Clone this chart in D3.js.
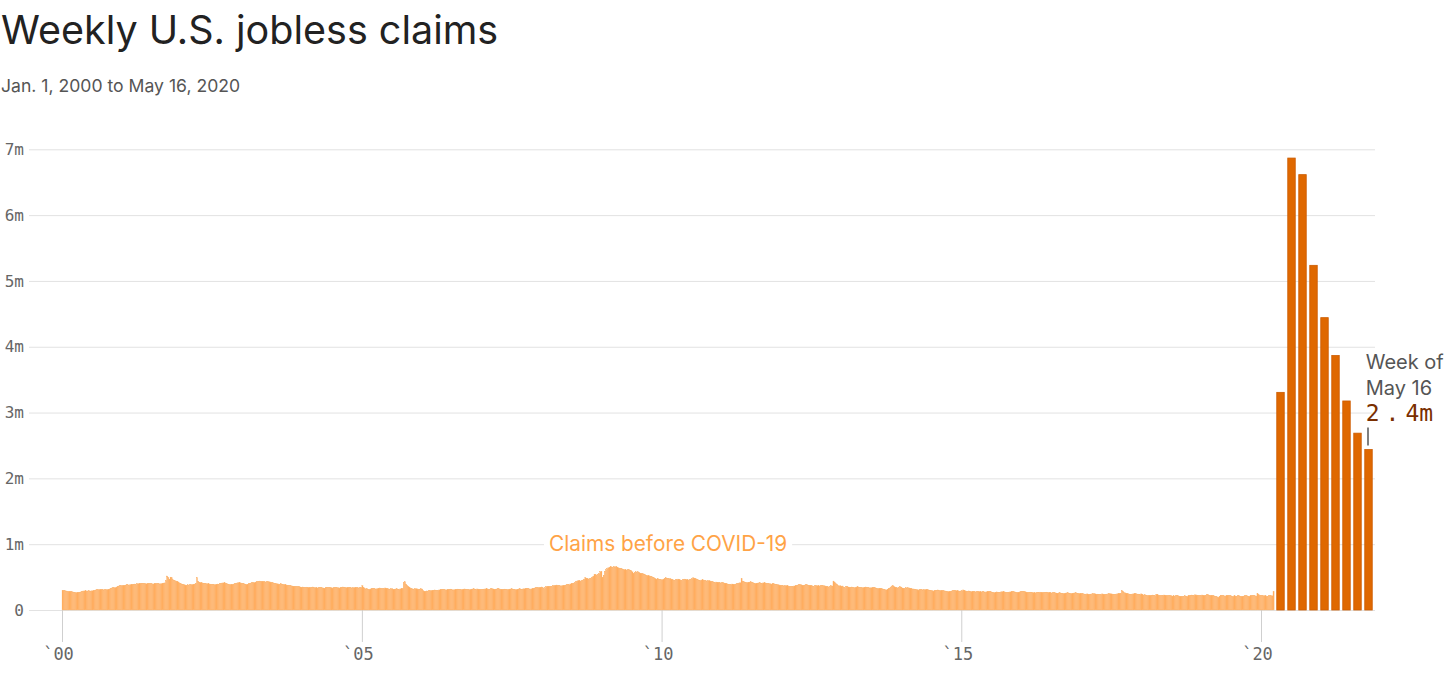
<!DOCTYPE html>
<html>
<head>
<meta charset="utf-8">
<script src="https://cdn.jsdelivr.net/npm/d3@7"></script>
<style>
  html, body { margin: 0; padding: 0; background: #fff; }
  svg { display: block; }
</style>
</head>
<body>
<svg id="chart" width="1456" height="673"></svg>
<script>
// ---- Data (weekly initial jobless claims, thousands; weeks ending Saturday) ----
const claims2000 = [300,298,295,290,288,285,282,280,278,275,270,268,265,268,270,272,275,285,288,290,292,288,290,292,290,288,292,295,298,305,308,310,312,308,310,312,305,308,310,312,315,320,330,335,340,338,342,350,360,365,370,372,375];
const claims2001 = [370,375,380,385,382,378,385,390,388,392,395,390,398,400,405,402,408,405,400,402,398,400,405,402,400,398,395,400,402,398,405,400,396,400,405,410,412,450,517,498,470,500,490,460,450,445,440,430,425,410,400,395];
const claims2002 = [392,385,380,375,382,378,382,385,388,390,395,405,495,440,425,420,415,410,408,405,400,398,402,395,390,388,392,385,388,390,395,392,400,405,410,412,415,405,400,395,390,388,392,385,395,400,405,410,415,420,412,405];
const claims2003 = [405,398,395,390,392,400,405,410,415,420,418,425,430,428,435,440,438,432,430,428,425,430,432,428,425,420,415,410,405,400,398,395,392,400,395,390,388,385,380,378,375,370,368,365,362,360,358,355,352,360,350,345];
const claims2004 = [350,345,340,342,348,345,340,338,345,350,342,340,338,335,340,345,342,338,335,330,340,345,338,342,345,340,335,338,342,345,340,338,335,342,345,350,348,345,340,338,342,345,340,335,338,342,345,340,338,335,340,345];
const claims2005 = [372,345,330,320,325,318,315,320,325,330,328,322,318,325,330,335,328,322,325,330,335,328,325,320,318,322,325,315,318,320,322,318,315,320,325,322,420,430,395,375,360,345,330,325,320,318,322,325,320,315,318,322,320];
const claims2006 = [295,285,280,290,288,292,295,298,300,302,305,300,298,302,305,310,312,315,310,308,305,310,312,315,318,310,305,308,312,315,318,315,312,310,315,318,320,315,312,310,308,315,318,320,322,318,315,320,318,315,312,310];
const claims2007 = [315,318,320,325,320,315,318,322,325,320,315,318,320,325,322,318,315,312,315,318,310,312,315,318,320,322,318,315,310,312,315,320,325,318,315,320,322,325,330,328,322,318,320,325,330,335,340,338,342,345,340,350];
const claims2008 = [338,325,340,355,362,360,358,355,362,370,375,368,380,372,375,370,365,372,370,375,380,385,390,385,395,400,405,410,420,430,440,450,445,438,445,455,470,495,485,478,470,475,485,500,515,535,540,525,545,555,580,590];
const claims2009 = [500,530,590,610,630,640,650,660,655,650,660,655,665,650,640,635,630,625,620,615,612,605,610,615,608,600,580,560,570,580,575,580,570,560,555,550,548,540,530,525,520,518,510,505,495,490,480,470,480,470,465,460];
const claims2010 = [460,470,480,490,485,480,475,480,470,465,450,455,460,465,470,460,455,450,460,465,470,465,460,455,460,470,480,490,485,475,470,460,455,450,455,460,455,450,445,440,445,450,440,435,430,425,420,425,420,415,420,410];
const claims2011 = [415,420,410,405,400,395,390,385,390,395,392,388,395,400,405,410,415,478,440,430,425,420,418,422,425,428,420,415,410,405,408,410,412,415,410,408,412,415,410,405,402,400,398,395,400,398,395,392,388,385,380,375,372];
const claims2012 = [375,365,370,372,368,362,358,355,360,362,365,370,375,380,385,388,382,378,375,380,382,385,380,378,376,370,365,360,368,372,370,368,365,372,375,370,368,365,362,360,345,362,370,365,440,425,400,395,375,365,370,360];
const claims2013 = [365,345,340,355,362,350,348,345,350,340,338,345,350,352,348,345,340,338,342,346,350,345,342,338,335,338,340,345,342,335,330,328,332,330,325,320,315,310,305,315,325,335,350,365,370,355,345,340,335,345,355,350];
const claims2014 = [335,330,325,340,335,338,335,330,325,318,320,315,312,310,305,308,312,310,305,308,312,310,308,305,302,300,295,290,295,300,302,305,300,298,295,295,292,290,288,285,282,280,285,290,295,298,300,295,292,290,285,290];
const claims2015 = [295,305,300,290,285,280,290,285,280,282,285,278,275,280,285,282,278,275,280,276,272,275,278,280,282,278,272,270,265,270,275,272,270,268,275,278,280,275,270,265,268,272,275,280,282,278,275,272,270,268,275,278];
const claims2016 = [285,282,285,278,272,268,265,270,272,268,265,262,260,265,268,270,272,268,262,265,268,270,272,268,265,262,258,262,265,262,258,255,260,262,258,255,252,255,258,260,262,258,255,252,255,258,260,262,258,255,252,250,248];
const claims2017 = [250,245,240,242,245,240,238,242,245,248,250,245,240,242,238,235,240,245,242,238,240,242,245,250,248,245,242,240,238,242,245,248,250,255,298,285,265,260,255,250,245,240,238,242,245,248,250,245,240,242,238,245];
const claims2018 = [235,225,230,228,222,225,220,218,225,228,222,220,240,235,225,220,215,222,225,228,222,218,215,220,225,218,212,215,210,215,220,218,212,210,208,205,210,215,212,208,215,220,225,228,222,225,230,228,225,220,218,225];
const claims2019 = [228,220,215,225,230,235,228,225,222,220,215,210,205,200,195,210,225,220,218,215,212,218,220,222,218,215,210,208,215,212,210,215,218,212,210,208,212,215,218,215,212,210,215,218,222,220,215,212,252,235,222,220];
const claims2020 = [220,215,218,215,205,210,215,220,215,215,282];

const covidWeeks  = ["Mar 21","Mar 28","Apr 4","Apr 11","Apr 18","Apr 25","May 2","May 9","May 16"];
const covidClaims = [3307, 6867, 6615, 5237, 4442, 3867, 3176, 2687, 2438]; // thousands

const yTickValues = [0, 1, 2, 3, 4, 5, 6, 7]; // millions
const xTickYears  = [2000, 2005, 2010, 2015, 2020];

const titleText    = "Weekly U.S. jobless claims";
const subtitleText = "Jan. 1, 2000 to May 16, 2020";
const preLabelText = "Claims before COVID-19";
const annoLine1 = "Week of";
const annoLine2 = "May 16";
const annoValueParts = ["2.", "4m"];

// ---- Build series ----
const firstWeek = new Date(Date.UTC(2000, 0, 1));
const preValues = [].concat(claims2000, claims2001, claims2002, claims2003, claims2004,
  claims2005, claims2006, claims2007, claims2008, claims2009, claims2010, claims2011,
  claims2012, claims2013, claims2014, claims2015, claims2016, claims2017, claims2018,
  claims2019, claims2020);
const preData = preValues.map((v, i) => ({ date: d3.utcDay.offset(firstWeek, 7 * i), value: v * 1000 }));
const covidData = covidWeeks.map((w, i) => ({ week: w, value: covidClaims[i] * 1000 }));

// ---- Layout ----
const svg = d3.select("#chart");
const gridLeft = 29, gridRight = 1375;
const yTop = 149.3, yBase = 610;

const y = d3.scaleLinear().domain([0, 7e6]).range([yBase, yTop]);
const x = d3.scaleUtc()
  .domain([new Date(Date.UTC(2000, 0, 1)), new Date(Date.UTC(2020, 0, 1))])
  .range([62, 1261]);
const xc = d3.scaleBand().domain(covidWeeks).range([1275, 1374]).paddingInner(0.32).paddingOuter(0.16);

// Title & subtitle
svg.append("text").attr("x", 1).attr("y", 43.5)
  .attr("font-family", "Inter, 'Liberation Sans', sans-serif").attr("font-size", 39.5)
  .attr("fill", "#222").text(titleText);
svg.append("text").attr("x", 1).attr("y", 91.5)
  .attr("font-family", "Inter, 'Liberation Sans', sans-serif").attr("font-size", 17.6)
  .attr("fill", "#555").text(subtitleText);

// Y axis with gridlines
const yAxis = d3.axisLeft(y)
  .tickValues(yTickValues.map(d => d * 1e6))
  .tickFormat(d => d === 0 ? "0" : (d / 1e6) + "m")
  .tickSize(-(gridRight - gridLeft))
  .tickPadding(5);
const gy = svg.append("g").attr("transform", `translate(${gridLeft},0)`).call(yAxis);
gy.select(".domain").remove();
gy.selectAll(".tick line").attr("stroke", "#e2e2e2").attr("stroke-width", 1);
gy.selectAll(".tick text")
  .attr("font-family", "'DejaVu Sans Mono', monospace").attr("font-size", 16)
  .attr("fill", "#666");

// X axis
const xAxis = d3.axisBottom(x)
  .tickValues(xTickYears.map(yr => new Date(Date.UTC(yr, 0, 1))))
  .tickFormat(d => "`" + d3.utcFormat("%y")(d))
  .tickSize(32).tickPadding(6);
const gx = svg.append("g").attr("transform", `translate(0,${yBase})`).call(xAxis);
gx.select(".domain").remove();
gx.selectAll(".tick line").attr("stroke", "#cfcfcf").attr("stroke-width", 1);
gx.selectAll(".tick text")
  .attr("font-family", "'DejaVu Sans Mono', monospace").attr("font-size", 17)
  .attr("fill", "#666").attr("dx", -4);

// Pre-COVID bars
const wk = x(d3.utcDay.offset(firstWeek, 7)) - x(firstWeek);
svg.append("g").selectAll("rect").data(preData).join("rect")
  .attr("x", d => x(d.date))
  .attr("y", d => y(d.value))
  .attr("width", wk)
  .attr("height", d => y(0) - y(d.value))
  .attr("fill", "#ffad5e")
  .attr("stroke", "#fbb46f").attr("stroke-width", 0.25);

// COVID bars
svg.append("g").selectAll("rect").data(covidData).join("rect")
  .attr("x", d => xc(d.week))
  .attr("y", d => y(d.value))
  .attr("width", xc.bandwidth())
  .attr("height", d => y(0) - y(d.value))
  .attr("fill", "#df6800")
  .attr("stroke", "#cc5c00").attr("stroke-width", 0.8);

// "Claims before COVID-19" label
const preMid = (x(preData[0].date) + x(preData[preData.length - 1].date) + wk) / 2;
const lbl = svg.append("g");
const lt = lbl.append("text").attr("x", preMid).attr("y", y(1e6)).attr("dy", "0.35em")
  .attr("text-anchor", "middle")
  .attr("font-family", "Inter, 'Liberation Sans', sans-serif").attr("font-size", 20.8)
  .attr("fill", "#ffa346").text(preLabelText);
const bb = lt.node().getBBox();
lbl.insert("rect", "text").attr("x", bb.x - 5).attr("y", bb.y).attr("width", bb.width + 10)
  .attr("height", bb.height).attr("fill", "#fff");

// Annotation for last week
const last = covidData[covidData.length - 1];
const ax = xc(last.week);
const ay = y(last.value);
svg.append("text").attr("x", ax + 1).attr("y", ay - 80.5)
  .attr("font-family", "Inter, 'Liberation Sans', sans-serif").attr("font-size", 20)
  .attr("fill", "#555").text(annoLine1);
svg.append("text").attr("x", ax + 1).attr("y", ay - 54.5)
  .attr("font-family", "Inter, 'Liberation Sans', sans-serif").attr("font-size", 20)
  .attr("fill", "#555").text(annoLine2);
const av = svg.append("text").attr("x", ax + 1).attr("y", ay - 28.5)
  .attr("font-family", "'DejaVu Sans Mono', monospace").attr("font-size", 23)
  .attr("fill", "#7a2f00");
av.append("tspan").attr("letter-spacing", 6).text(annoValueParts[0]);
av.append("tspan").text(annoValueParts[1]);
svg.append("line")
  .attr("x1", ax + xc.bandwidth() / 2 - 0.5).attr("x2", ax + xc.bandwidth() / 2 - 0.5)
  .attr("y1", ay - 22).attr("y2", ay - 4)
  .attr("stroke", "#555").attr("stroke-width", 1.5);
</script>
</body>
</html>
